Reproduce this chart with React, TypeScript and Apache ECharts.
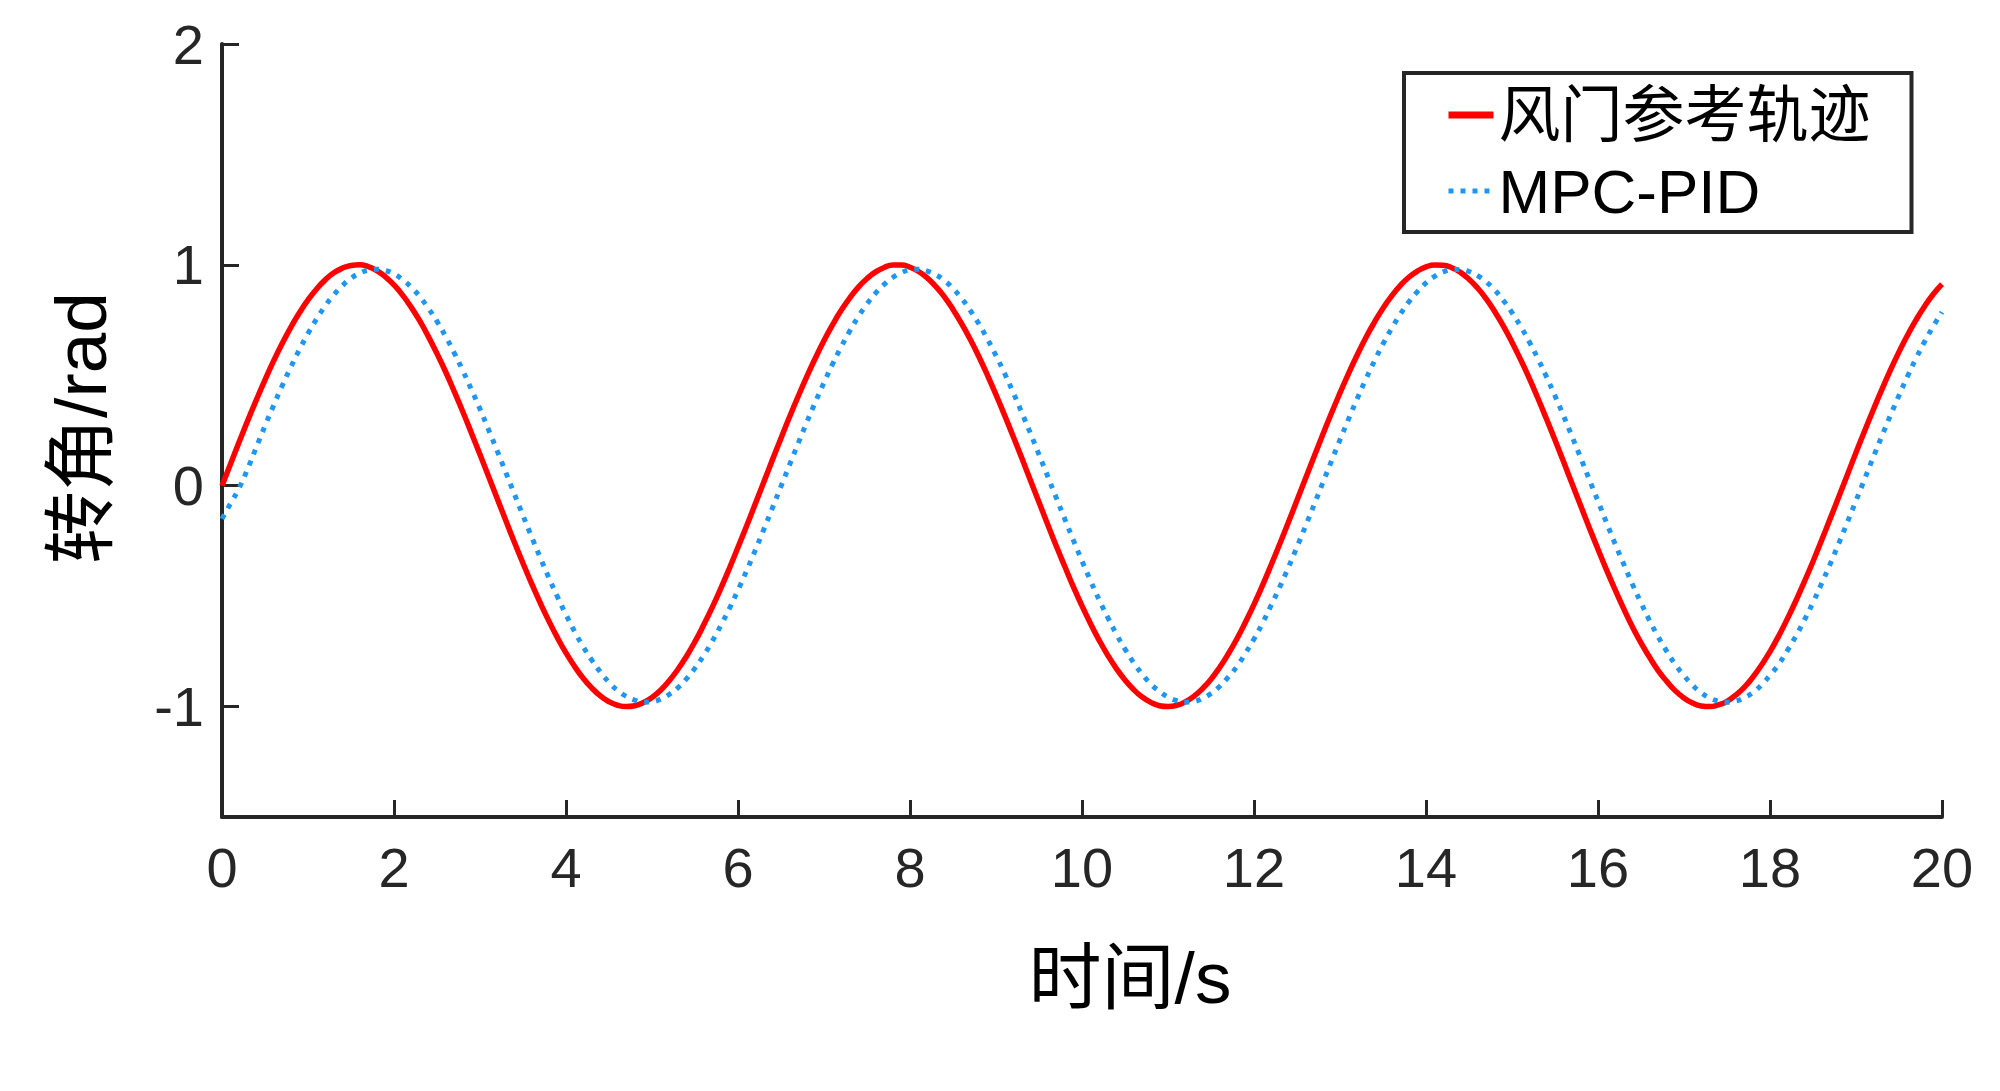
import React, { useEffect, useRef } from "react";
import * as echarts from "echarts";

const timeS = [
  0, 0.1, 0.2, 0.3, 0.4, 0.5, 0.6, 0.7, 0.8, 0.9,
  1, 1.1, 1.2, 1.3, 1.4, 1.5, 1.6, 1.7, 1.8, 1.9,
  2, 2.1, 2.2, 2.3, 2.4, 2.5, 2.6, 2.7, 2.8, 2.9,
  3, 3.1, 3.2, 3.3, 3.4, 3.5, 3.6, 3.7, 3.8, 3.9,
  4, 4.1, 4.2, 4.3, 4.4, 4.5, 4.6, 4.7, 4.8, 4.9,
  5, 5.1, 5.2, 5.3, 5.4, 5.5, 5.6, 5.7, 5.8, 5.9,
  6, 6.1, 6.2, 6.3, 6.4, 6.5, 6.6, 6.7, 6.8, 6.9,
  7, 7.1, 7.2, 7.3, 7.4, 7.5, 7.6, 7.7, 7.8, 7.9,
  8, 8.1, 8.2, 8.3, 8.4, 8.5, 8.6, 8.7, 8.8, 8.9,
  9, 9.1, 9.2, 9.3, 9.4, 9.5, 9.6, 9.7, 9.8, 9.9,
  10, 10.1, 10.2, 10.3, 10.4, 10.5, 10.6, 10.7, 10.8, 10.9,
  11, 11.1, 11.2, 11.3, 11.4, 11.5, 11.6, 11.7, 11.8, 11.9,
  12, 12.1, 12.2, 12.3, 12.4, 12.5, 12.6, 12.7, 12.8, 12.9,
  13, 13.1, 13.2, 13.3, 13.4, 13.5, 13.6, 13.7, 13.8, 13.9,
  14, 14.1, 14.2, 14.3, 14.4, 14.5, 14.6, 14.7, 14.8, 14.9,
  15, 15.1, 15.2, 15.3, 15.4, 15.5, 15.6, 15.7, 15.8, 15.9,
  16, 16.1, 16.2, 16.3, 16.4, 16.5, 16.6, 16.7, 16.8, 16.9,
  17, 17.1, 17.2, 17.3, 17.4, 17.5, 17.6, 17.7, 17.8, 17.9,
  18, 18.1, 18.2, 18.3, 18.4, 18.5, 18.6, 18.7, 18.8, 18.9,
  19, 19.1, 19.2, 19.3, 19.4, 19.5, 19.6, 19.7, 19.8, 19.9,
  20,
];

const referenceRad = [
  0.0, 0.1, 0.199, 0.296, 0.389, 0.479, 0.565, 0.644, 0.717, 0.783,
  0.841, 0.891, 0.932, 0.964, 0.985, 0.997, 1.0, 0.992, 0.974, 0.946,
  0.909, 0.863, 0.808, 0.746, 0.675, 0.598, 0.516, 0.427, 0.335, 0.239,
  0.141, 0.042, -0.058, -0.158, -0.256, -0.351, -0.443, -0.53, -0.612, -0.688,
  -0.757, -0.818, -0.872, -0.916, -0.952, -0.978, -0.994, -1.0, -0.996, -0.982,
  -0.959, -0.926, -0.883, -0.832, -0.773, -0.706, -0.631, -0.551, -0.465, -0.374,
  -0.279, -0.182, -0.083, 0.017, 0.117, 0.215, 0.312, 0.405, 0.494, 0.578,
  0.657, 0.729, 0.794, 0.85, 0.899, 0.938, 0.968, 0.988, 0.999, 0.999,
  0.989, 0.97, 0.941, 0.902, 0.855, 0.798, 0.734, 0.663, 0.585, 0.501,
  0.412, 0.319, 0.223, 0.125, 0.025, -0.075, -0.174, -0.272, -0.366, -0.458,
  -0.544, -0.625, -0.7, -0.768, -0.828, -0.88, -0.923, -0.957, -0.981, -0.996,
  -1.0, -0.995, -0.979, -0.954, -0.919, -0.876, -0.823, -0.762, -0.694, -0.618,
  -0.537, -0.45, -0.358, -0.263, -0.165, -0.066, 0.034, 0.133, 0.232, 0.328,
  0.42, 0.509, 0.592, 0.67, 0.74, 0.804, 0.859, 0.906, 0.944, 0.972,
  0.991, 0.999, 0.998, 0.987, 0.966, 0.935, 0.895, 0.846, 0.788, 0.723,
  0.65, 0.571, 0.487, 0.397, 0.303, 0.207, 0.108, 0.008, -0.092, -0.191,
  -0.288, -0.382, -0.472, -0.558, -0.639, -0.712, -0.777, -0.837, -0.886, -0.929,
  -0.961, -0.984, -0.997, -1.0, -0.992, -0.976, -0.948, -0.913, -0.867, -0.813,
  -0.751, -0.681, -0.604, -0.522, -0.434, -0.343, -0.247, -0.149, -0.05, 0.05,
  0.15, 0.248, 0.343, 0.435, 0.523, 0.606, 0.682, 0.752, 0.814, 0.868,
  0.913,
];

const mpcPidRad = [
  -0.15, -0.08, -0.01, 0.078, 0.175, 0.271, 0.363, 0.453, 0.537, 0.616,
  0.689, 0.755, 0.814, 0.864, 0.906, 0.939, 0.962, 0.976, 0.98, 0.974,
  0.959, 0.933, 0.899, 0.856, 0.803, 0.744, 0.676, 0.602, 0.521, 0.436,
  0.347, 0.253, 0.158, 0.06, -0.038, -0.135, -0.231, -0.325, -0.416, -0.502,
  -0.584, -0.66, -0.729, -0.79, -0.844, -0.89, -0.927, -0.954, -0.971, -0.98,
  -0.978, -0.966, -0.945, -0.915, -0.875, -0.826, -0.769, -0.705, -0.633, -0.556,
  -0.473, -0.385, -0.293, -0.198, -0.101, -0.003, 0.095, 0.192, 0.287, 0.379,
  0.467, 0.551, 0.629, 0.701, 0.766, 0.823, 0.872, 0.912, 0.943, 0.965,
  0.977, 0.98, 0.972, 0.955, 0.929, 0.893, 0.848, 0.794, 0.733, 0.664,
  0.589, 0.508, 0.422, 0.331, 0.238, 0.141, 0.044, -0.054, -0.151, -0.247,
  -0.341, -0.431, -0.517, -0.597, -0.672, -0.74, -0.801, -0.853, -0.898, -0.931,
  -0.957, -0.973, -0.98, -0.977, -0.963, -0.941, -0.909, -0.867, -0.819, -0.759,
  -0.694, -0.621, -0.541, -0.458, -0.37, -0.277, -0.182, -0.085, 0.013, 0.111,
  0.208, 0.302, 0.394, 0.482, 0.564, 0.642, 0.712, 0.776, 0.832, 0.879,
  0.918, 0.948, 0.968, 0.978, 0.979, 0.97, 0.951, 0.923, 0.886, 0.839,
  0.784, 0.722, 0.652, 0.576, 0.494, 0.407, 0.316, 0.221, 0.125, 0.027,
  -0.07, -0.168, -0.264, -0.356, -0.446, -0.53, -0.611, -0.684, -0.75, -0.81,
  -0.86, -0.903, -0.937, -0.961, -0.975, -0.98, -0.975, -0.96, -0.937, -0.902,
  -0.858, -0.809, -0.748, -0.682, -0.608, -0.529, -0.443, -0.354, -0.261, -0.165,
  -0.068, 0.03, 0.128, 0.224, 0.318, 0.409, 0.496, 0.578, 0.654, 0.723,
  0.786,
];

const yTickValues = [-1, 0, 1, 2];
const seriesNames = ["风门参考轨迹", "MPC-PID"];
const xAxisName = "时间/s";
const yAxisName = "转角/rad";

const AXIS_COLOR = "#262626";
const RED = "#ff0000";
const BLUE = "#2196f0";
const FONT = "'Liberation Sans', 'Noto Sans CJK SC', sans-serif";

export default function App() {
  const ref = useRef<HTMLDivElement>(null);

  useEffect(() => {
    if (!ref.current) return;
    const chart = echarts.init(ref.current, undefined, { renderer: "svg" });
    const refData = timeS.map((t, i) => [t, referenceRad[i]]);
    const pidData = timeS.map((t, i) => [t, mpcPidRad[i]]);

    chart.setOption({
      animation: false,
      backgroundColor: "#ffffff",
      textStyle: { fontFamily: FONT },
      grid: { left: 222, right: 58, top: 44, bottom: 274, containLabel: false },
      xAxis: {
        type: "value",
        min: 0,
        max: 20,
        interval: 2,
        axisLine: { show: true, onZero: false, lineStyle: { color: AXIS_COLOR, width: 4 } },
        axisTick: { show: true, inside: true, length: 17, lineStyle: { color: AXIS_COLOR, width: 3 } },
        axisLabel: { color: AXIS_COLOR, fontSize: 56, fontFamily: FONT, margin: 22 },
        splitLine: { show: false },
      },
      yAxis: {
        type: "value",
        min: -1.5,
        max: 2,
        interval: 0.5,
        axisLine: { show: true, onZero: false, lineStyle: { color: AXIS_COLOR, width: 4 } },
        axisTick: {
          show: true,
          inside: true,
          length: 17,
          customValues: yTickValues,
          lineStyle: { color: AXIS_COLOR, width: 3 },
        },
        axisLabel: {
          color: AXIS_COLOR,
          fontSize: 56,
          fontFamily: FONT,
          margin: 18,
          customValues: yTickValues,
        },
        splitLine: { show: false },
      },
      legend: {
        orient: "vertical",
        left: 1404,
        top: 73,
        padding: [11, 41, 10, 41],
        itemGap: 14,
        itemWidth: 45,
        itemHeight: 2,
        borderColor: AXIS_COLOR,
        borderWidth: 4,
        borderRadius: 0,
        backgroundColor: "#ffffff",
        itemStyle: { opacity: 0 },
        textStyle: { color: "#000000", fontSize: 62, lineHeight: 62, fontFamily: FONT },
        data: [
          { name: seriesNames[0], lineStyle: { color: RED, width: 7, type: "solid" } },
          { name: seriesNames[1], lineStyle: { color: BLUE, width: 5, type: [5, 7] } },
        ],
      },
      series: [
        {
          name: seriesNames[0],
          type: "line",
          data: refData,
          smooth: true,
          symbol: "none",
          lineStyle: { color: RED, width: 5.5 },
          itemStyle: { color: RED },
          z: 2,
        },
        {
          name: seriesNames[1],
          type: "line",
          data: pidData,
          smooth: true,
          symbol: "none",
          lineStyle: { color: BLUE, width: 5, type: [5, 7] },
          itemStyle: { color: BLUE },
          z: 3,
        },
      ],
      graphic: [
        {
          type: "text",
          x: 1130,
          y: 977,
          style: {
            text: xAxisName,
            fontSize: 73,
            fontFamily: FONT,
            fill: "#000000",
            align: "center",
            verticalAlign: "middle",
          },
        },
        {
          type: "text",
          x: 80,
          y: 428,
          rotation: Math.PI / 2,
          style: {
            text: yAxisName,
            fontSize: 73,
            fontFamily: FONT,
            fill: "#000000",
            align: "center",
            verticalAlign: "middle",
          },
        },
      ],
    });

    return () => chart.dispose();
  }, []);

  return <div ref={ref} style={{ width: 2000, height: 1091, margin: -8 }} />;
}
